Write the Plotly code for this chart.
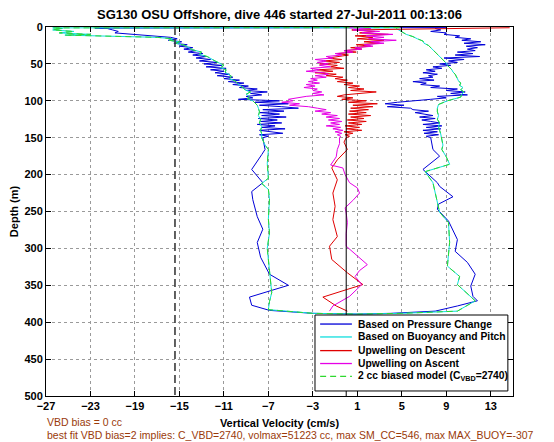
import plotly.graph_objects as go

# ---------------- data (cm/s vs depth m) ----------------
# common 2-m sampling depths of the dense upper part (0-150 m)
dense_depth = [2, 4, 6, 8, 10, 12, 14, 16, 18, 20, 22, 24, 26, 28, 30, 32, 34, 36, 38, 40,
               42, 44, 46, 48, 50, 52, 54, 56, 58, 60, 62, 64, 66, 68, 70, 72, 74, 76, 78, 80,
               82, 84, 86, 88, 90, 92, 94, 96, 98, 100, 102, 104, 106, 108, 110, 112, 114, 116,
               118, 120, 122, 124, 126, 128, 130, 132, 134, 136, 138, 140, 142, 144, 146, 148, 150]

# Based on Pressure Change (blue)
blue_start_depth = [0.8, 1.5]
blue_start_w = [9.0, -22.6]
blue_desc_dense_w = [-21.5, -21.0, -20.5, -20.8, -19.0, -17.5, -15.8, -15.2, -16.0, -14.8, -15.5, -14.3,
                     -15.0, -13.8, -14.6, -13.5, -14.2, -12.9, -13.8, -12.6, -13.5, -12.2, -13.2, -11.6,
                     -12.8, -11.2, -12.6, -10.8, -12.2, -11.0, -11.8, -10.5, -11.6, -10.2, -11.0, -9.6,
                     -10.6, -9.2, -10.2, -8.8, -9.6, -8.0, -9.0, -7.1, -8.6, -7.6, -9.0, -8.4, -9.7,
                     -6.0, -8.2, -5.2, -7.8, -5.8, -4.3, -7.5, -5.6, -7.8, -6.0, -7.6, -5.4, -7.9, -6.2,
                     -7.7, -5.8, -8.0, -6.4, -7.6, -5.5, -7.8, -6.6, -5.7, -7.8, -7.0, -7.5]
blue_desc_deep_depth = [160, 166, 173, 193, 211, 223, 234, 257, 274, 292, 312, 335, 350, 366, 377, 384]
blue_desc_deep_w = [-7.4, -7.3, -7.6, -8.5, -7.5, -8.5, -8.4, -8.0, -7.5, -8.0, -7.7, -6.9, -5.2, -8.7, -8.5, -6.9]
blue_turn_depth = [388, 389, 388]
blue_turn_w = [-3.0, 1.0, 4.0]
blue_asc_deep_depth = [156, 166, 175, 193, 211, 216, 230, 240, 247, 263, 288, 304, 319, 335, 351, 365, 371, 378, 385]
blue_asc_deep_w = [7.7, 7.8, 8.4, 6.9, 8.2, 8.4, 9.6, 8.3, 8.2, 9.2, 10.0, 9.8, 10.9, 11.6, 11.2, 11.4, 11.8, 10.0, 8.0]
blue_asc_dense_w = [8.0, 8.5, 7.6, 9.0, 8.8, 10.2, 9.8, 11.2, 10.4, 12.1, 10.6, 12.5, 10.8, 11.8, 10.9, 11.6,
                    10.0, 11.4, 9.8, 12.0, 8.8, 10.6, 9.2, 10.0, 8.4, 9.4, 7.8, 8.6, 7.2, 8.0, 6.9, 8.2,
                    7.4, 7.8, 6.6, 7.9, 6.0, 7.2, 6.7, 8.4, 7.6, 10.0, 9.0, 10.7, 9.4, 10.9, 8.2, 9.0,
                    7.6, 6.4, 4.6, 3.5, 5.2, 3.7, 5.8, 6.0, 7.4, 6.2, 6.9, 7.8, 6.6, 8.0, 6.8, 7.6, 8.4,
                    6.9, 8.6, 7.2, 8.5, 6.9, 8.2, 7.0, 8.3, 7.2, 7.6]

# Based on Buoyancy and Pitch (cyan) / 2 cc biased model (green dashed)
green_desc_depth = [0.8, 1.2, 2, 4, 6, 8, 10, 11, 12, 13, 14, 16, 18, 20, 22, 25, 28, 31, 34, 37, 40, 43,
                    46, 49, 52, 55, 58, 61, 64, 67, 70, 73, 76, 79, 82, 85, 88, 91, 94, 97, 100, 103,
                    106, 110, 115, 120, 125, 130, 135, 140, 145, 150, 160, 166, 185, 205, 212, 220, 233,
                    260, 279, 300, 315, 335, 360, 372, 383]
green_desc_w = [4.8, -26.4, -25.5, -26.4, -24.5, -25.8, -23.0, -25.3, -22.0, -19.5, -17.0, -15.6, -15.9,
                -15.0, -15.3, -14.5, -14.2, -13.8, -13.0, -13.2, -12.5, -12.2, -11.8, -11.4, -11.0,
                -11.3, -10.8, -10.9, -10.6, -10.3, -10.5, -10.0, -9.8, -9.6, -9.3, -9.1, -8.6, -9.0,
                -8.7, -8.9, -8.4, -8.2, -8.0, -7.9, -7.8, -7.9, -7.7, -7.8, -7.6, -7.7, -7.6, -7.6,
                -7.3, -7.0, -7.1, -7.0, -7.6, -7.0, -6.9, -7.0, -6.9, -7.1, -7.0, -6.9, -6.7, -6.9, -7.0]
green_turn_depth = [388, 389, 388]
green_turn_w = [-3.0, 1.0, 5.0]
green_asc_depth = [2, 4, 7, 10, 13, 16, 19, 22, 25, 28, 31, 34, 37, 40, 43, 46, 49, 52, 55, 58, 61, 64,
                   67, 70, 73, 76, 79, 82, 85, 88, 91, 95, 100, 105, 110, 115, 120, 125, 130, 135, 140,
                   145, 150, 160, 166, 176, 186, 196, 211, 238, 251, 265, 292, 324, 338, 349, 371, 385]
green_asc_w = [4.5, 4.8, 5.1, 5.4, 6.0, 6.4, 6.9, 7.0, 7.4, 7.6, 7.8, 8.0, 8.2, 8.4, 8.6, 8.8, 9.0, 9.1,
               9.3, 9.5, 9.6, 9.8, 9.9, 10.0, 10.1, 10.3, 10.2, 10.5, 10.3, 10.6, 10.4, 10.3, 9.1, 8.3,
               8.2, 8.2, 8.3, 8.2, 8.4, 8.3, 8.4, 8.5, 8.6, 8.7, 8.6, 9.0, 9.3, 7.1, 7.8, 8.2, 8.4, 9.2,
               9.3, 9.1, 10.2, 10.0, 11.6, 10.0]

# Upwelling on Descent (red)
red_start_depth = [1]
red_start_w = [14.7]
red_dense_w = [8.0, 0.5, 2.6, 1.2, 3.8, 0.8, 2.4, 1.0, 3.4, 1.6, 3.0, 0.9, 2.2, 0.4, 1.4, -0.2, 0.9, -0.8,
               0.2, -0.6, -1.6, -0.4, -2.0, -0.6, -2.4, -0.8, -1.4, -0.2, -2.6, -1.2, -2.8, -0.9, -1.8,
               -0.3, -1.0, 0.1, -0.8, 0.6, -0.2, 1.2, 0.2, 1.6, 0.4, 2.7, 0.8, -0.2, -0.8, 0.6, -0.4,
               1.8, 0.2, 2.8, 0.6, 2.4, 0.4, 2.0, 0.3, 1.8, 0.2, 2.2, 0.4, 1.6, 0.1, 1.8, 0.2, 1.4,
               -0.1, 1.2, 0.0, 1.4, -0.2, 0.6, -0.1, 0.3, 0.0]
red_deep_depth = [156, 166, 180, 191, 207, 225, 243, 261, 284, 297, 315, 333, 349, 356, 366, 378, 385]
red_deep_w = [-0.2, 0.1, -0.8, -1.3, -0.8, -1.2, -1.0, -1.2, -0.8, -1.5, -1.3, 0.1, 1.5, 0.0, -2.1, -0.9, 0.1]

# Upwelling on Ascent (magenta)
mag_top_depth = [1]
mag_top_w = [0.2]
mag_dense_w = [2.2, 0.6, 3.0, 1.4, 4.2, 1.8, 3.4, 2.0, 4.5, 2.2, 3.4, 1.6, 2.4, 0.8, 1.4, -0.2, 0.6, -1.0,
               -0.4, -1.8, -1.2, -2.8, -1.8, -2.6, -1.6, -2.4, -1.4, -3.2, -2.4, -3.6, -2.0, -1.6, -2.8,
               -1.8, -3.2, -2.6, -3.4, -2.4, -3.6, -2.8, -3.8, -2.6, -3.0, -2.2, -3.0, -2.0, -3.6, -4.2,
               -5.2, -4.8, -5.8, -4.2, -5.1, -3.4, -2.6, -1.8, -2.8, -1.4, -2.2, -0.8, -1.8, -0.6, -1.6,
               -0.4, -1.4, -0.6, -1.8, -0.5, -1.2, -0.3, -1.0, -0.4, -0.8, -0.5, -0.6]
mag_deep_depth = [158, 166, 176, 187, 191, 200, 211, 218, 225, 235, 245, 252, 265, 280, 297, 311, 322,
                  330, 338, 349, 356, 365, 378, 385]
mag_deep_w = [-0.6, -0.8, -0.9, -1.4, -0.3, -0.1, 0.3, 1.0, 1.2, 0.6, -0.1, 0.0, 0.1, 0.0, 0.0, 1.1, 1.9,
              1.2, 0.8, 1.4, 0.9, 0.3, -1.2, -1.5]

zero_ref = 0.0
dashed_ref = -15.4

x_ticks = [-27, -23, -19, -15, -11, -7, -3, 1, 5, 9, 13]
y_ticks = [0, 50, 100, 150, 200, 250, 300, 350, 400, 450, 500]

title_text = "SG130 OSU Offshore, dive 446 started 27-Jul-2011 00:13:06"
note1 = "VBD bias = 0 cc"
note2 = "best fit VBD bias=2 implies: C_VBD=2740, volmax=51223 cc, max SM_CC=546, max MAX_BUOY=-307"

# ---------------- assemble profiles ----------------
blue_d = (blue_start_depth + dense_depth + blue_desc_deep_depth + blue_turn_depth
          + blue_asc_deep_depth[::-1] + dense_depth[::-1])
blue_w = (blue_start_w + blue_desc_dense_w + blue_desc_deep_w + blue_turn_w
          + blue_asc_deep_w[::-1] + blue_asc_dense_w[::-1])
green_d = green_desc_depth + green_turn_depth + green_asc_depth[::-1]
green_w = green_desc_w + green_turn_w + green_asc_w[::-1]
red_d = red_start_depth + dense_depth + red_deep_depth
red_w = red_start_w + red_dense_w + red_deep_w
mag_d = mag_deep_depth[::-1] + dense_depth[::-1] + mag_top_depth
mag_w = mag_deep_w[::-1] + mag_dense_w[::-1] + mag_top_w

series = [
    ("Based on Pressure Change", blue_w, blue_d, "#0000d8", "solid"),
    ("Based on Buoyancy and Pitch", green_w, green_d, "#10dede", "solid"),
    ("Upwelling on Descent", red_w, red_d, "#e00000", "solid"),
    ("Upwelling on Ascent", mag_w, mag_d, "#e600e6", "solid"),
    ("2 cc biased model (C<sub>VBD</sub>=2740)", green_w, green_d, "#2ed82e", "6px,4px"),
]

FONT = "Liberation Sans, Arial, Helvetica, sans-serif"
fig = go.Figure()
for name, w, d, col, dash in series:
    fig.add_trace(go.Scatter(x=w, y=d, mode="lines", name=name, showlegend=False,
                             line=dict(color=col, width=1, dash=dash)))

fig.add_trace(go.Scatter(x=[zero_ref, zero_ref], y=[y_ticks[0], y_ticks[-1]], mode="lines",
                         showlegend=False, line=dict(color="black", width=1)))
fig.add_trace(go.Scatter(x=[dashed_ref, dashed_ref], y=[y_ticks[0], y_ticks[-1]], mode="lines",
                         showlegend=False, line=dict(color="#3a3a3a", width=1.6, dash="8px,4px")))

# ---- legend box (drawn in paper coordinates) ----
L, R, T, B = 0.576, 0.989, 0.2195, 0.0136
shapes = [dict(type="rect", xref="paper", yref="paper", x0=L, x1=R, y0=B, y1=T,
               fillcolor="white", line=dict(color="black", width=1), layer="above")]
annots = []
entry_y = [0.195, 0.160, 0.123, 0.088, 0.053]
for (name, w, d, col, dash), yy in zip(series, entry_y):
    shapes.append(dict(type="line", xref="paper", yref="paper", x0=0.587, x1=0.655, y0=yy, y1=yy,
                       line=dict(color=col, width=1.3, dash=dash), layer="above"))
    annots.append(dict(xref="paper", yref="paper", x=0.664, y=yy, text="<b>" + name + "</b>",
                       showarrow=False, xanchor="left", yanchor="middle",
                       font=dict(family=FONT, size=10.3, color="black")))

annots.append(dict(xref="paper", yref="paper", x=-0.002, y=-0.071, text=note1, showarrow=False,
                   xanchor="left", yanchor="middle", font=dict(family=FONT, size=10.5, color="#9a3a0a")))
annots.append(dict(xref="paper", yref="paper", x=-0.002, y=-0.106, text=note2, showarrow=False,
                   xanchor="left", yanchor="middle", font=dict(family=FONT, size=10.5, color="#9a3a0a")))

axis_common = dict(showline=True, linecolor="black", linewidth=1, mirror="ticks", ticks="inside",
                   ticklen=5, tickcolor="black", showgrid=True, gridcolor="#9a9a9a", griddash="dot",
                   gridwidth=1, zeroline=False,
                   tickfont=dict(family=FONT, size=11, color="black", weight="bold"))

# the page adds an 8 px body margin, so the figure is laid out 8 px up/left
fig.update_layout(
    width=554, height=442,
    margin=dict(l=38, r=49, t=19, b=54, autoexpand=False),
    paper_bgcolor="white", plot_bgcolor="white",
    font=dict(family=FONT, color="black"),
    title=dict(text="<b>" + title_text + "</b>", x=0.5, xref="paper", xanchor="center",
               y=1 - 2 / 442, yref="container", yanchor="top", pad=dict(t=0, b=0),
               font=dict(family=FONT, size=13, color="black")),
    xaxis=dict(range=[-27, 15], tickvals=x_ticks,
               title=dict(text="<b>Vertical Velocity (cm/s)</b>", standoff=8,
                          font=dict(family=FONT, size=11, color="black")),
               **axis_common),
    yaxis=dict(range=[500, 0], tickvals=y_ticks,
               title=dict(text="<b>Depth (m)</b>", standoff=10,
                          font=dict(family=FONT, size=11, color="black")),
               **axis_common),
    shapes=shapes,
    annotations=annots,
    showlegend=False,
)

fig.write_html("out.html")
